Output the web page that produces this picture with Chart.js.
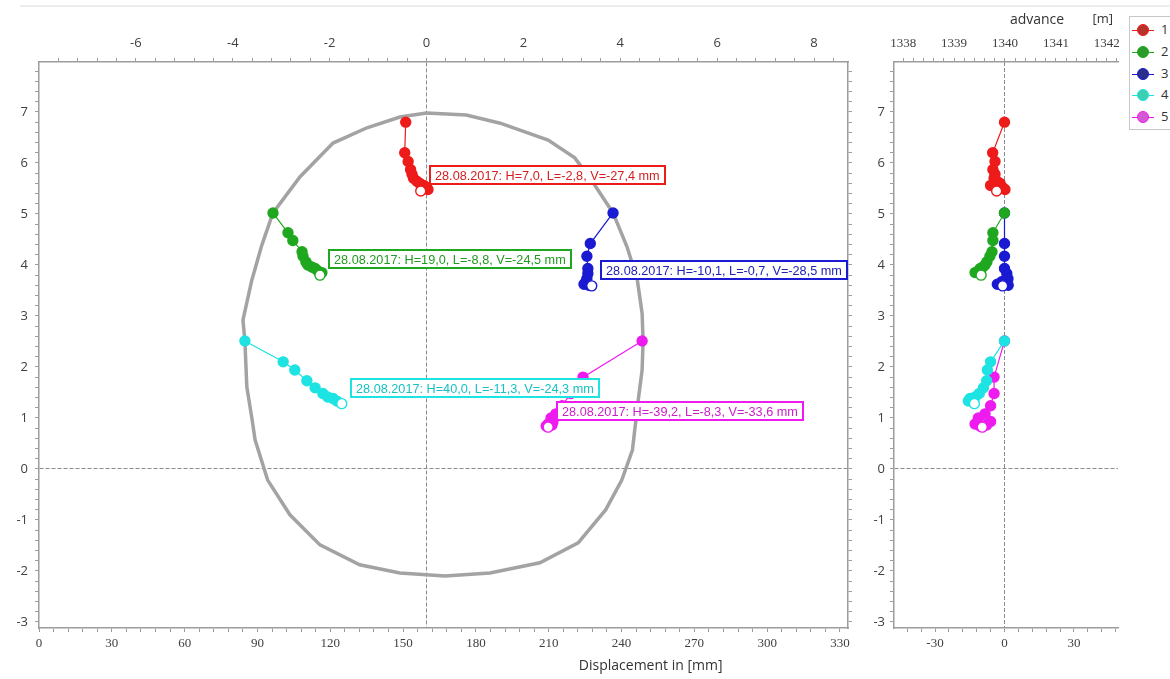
<!DOCTYPE html>
<html><head><meta charset="utf-8">
<script src="https://cdn.jsdelivr.net/npm/chart.js@4/dist/chart.umd.min.js"></script>
<style>
html,body{margin:0;padding:0;background:#fff;width:1170px;height:679px;overflow:hidden;font-family:"Open Sans","Liberation Sans",Arial,sans-serif}
#c1{position:absolute;left:0;top:0}
#c2{position:absolute;left:872px;top:0}
#topline{position:absolute;left:20px;top:5px;width:1150px;height:0;border-top:2px solid #ededed}
#legend{position:absolute;left:1129px;top:16px;width:60px;height:114px;border:1px solid #c8c8c8;box-sizing:border-box;background:#fff}
.li{position:absolute;left:0;width:60px;height:14px}
.ln{position:absolute;left:2px;top:7px;width:22px;height:1px}
.mk{position:absolute;left:7px;top:1px;width:10px;height:10px;border-radius:50%;border:1.5px solid}
.tx{position:absolute;left:31px;top:-2px;font-size:13px;color:#333;line-height:16px}
</style>
</head><body>
<div id="topline"></div>
<canvas id="c1" width="872" height="679"></canvas>
<canvas id="c2" width="258" height="679"></canvas>
<div id="legend"></div>
<script>
// ---------------- DATA ----------------
const seriesNames = ['1', '2', '3', '4', '5'];

// vertical position of each reading [m]
const s1_y = [6.80, 6.20, 6.03, 5.87, 5.78, 5.70, 5.64, 5.60, 5.56, 5.52, 5.48, 5.45];
const s2_y = [5.02, 4.63, 4.48, 4.26, 4.17, 4.06, 4.00, 3.96, 3.93, 3.88, 3.85, 3.80];
const s3_y = [5.02, 4.42, 4.17, 3.93, 3.83, 3.73, 3.67, 3.62, 3.60, 3.59];
const s4_y = [2.51, 2.10, 1.94, 1.73, 1.59, 1.48, 1.41, 1.38, 1.33, 1.28];
const s5_y = [2.51, 1.80, 1.48, 1.24, 1.08, 1.00, 0.93, 0.88, 0.86, 0.84, 0.82];

// cross-section horizontal position [m] (left panel, top axis)
const s1_xSection = [-0.43, -0.45, -0.38, -0.33, -0.30, -0.27, -0.20, -0.14, -0.06, 0.00, 0.03, -0.12];
const s2_xSection = [-3.17, -2.86, -2.76, -2.57, -2.55, -2.49, -2.45, -2.37, -2.30, -2.24, -2.16, -2.20];
const s3_xSection = [3.85, 3.38, 3.31, 3.33, 3.33, 3.31, 3.29, 3.25, 3.35, 3.41];
const s4_xSection = [-3.75, -2.96, -2.72, -2.47, -2.30, -2.14, -2.04, -1.93, -1.85, -1.75];
const s5_xSection = [4.45, 3.23, 2.98, 2.80, 2.67, 2.57, 2.61, 2.51, 2.59, 2.47, 2.51];

// longitudinal displacement [mm] (right panel, bottom axis)
const s1_xLong = [0, -5.1, -4.1, -5.0, -4.1, -4.5, -3.2, -1.9, -6.0, -0.8, 0.2, -3.4];
const s2_xLong = [0, -5.0, -5.0, -5.4, -6.3, -7.6, -8.4, -9.3, -10.5, -11.4, -12.7, -10.1];
const s3_xLong = [0, 0, 0, 0, 1.0, 1.5, -1.2, -3.1, 1.6, -0.8];
const s4_xLong = [0, -6.0, -7.4, -7.7, -9.1, -10.9, -12.7, -14.9, -15.6, -13.0];
const s5_xLong = [0, -4.5, -4.5, -6.0, -8.4, -11.3, -6.0, -12.7, -7.7, -10.6, -9.6];

// tunnel profile [m]
const profile_x = [0, 0.82, 1.52, 2.51, 3.06, 3.44, 3.85, 4.14, 4.35, 4.45, 4.47, 4.45, 4.37, 4.25, 4.03, 3.70, 3.13, 2.34, 1.31, 0.38, -0.55, -1.38, -2.20, -2.82, -3.28, -3.54, -3.60, -3.71, -3.75, -3.79, -3.61, -3.40, -3.17, -2.61, -1.93, -1.23, -0.55, 0];
const profile_y = [6.98, 6.94, 6.78, 6.45, 6.10, 5.61, 5.02, 4.35, 3.71, 3.05, 2.51, 1.94, 1.35, 0.37, -0.22, -0.80, -1.45, -1.84, -2.04, -2.10, -2.04, -1.88, -1.49, -0.90, -0.22, 0.57, 0.96, 1.61, 2.51, 2.92, 3.69, 4.39, 5.02, 5.73, 6.39, 6.69, 6.90, 6.98];

// final reading labels
const labelTexts = [
  '28.08.2017: H=7,0, L=-2,8, V=-27,4 mm',
  '28.08.2017: H=19,0, L=-8,8, V=-24,5 mm',
  '28.08.2017: H=-10,1, L=-0,7, V=-28,5 mm',
  '28.08.2017: H=40,0, L=-11,3, V=-24,3 mm',
  '28.08.2017: H=-39,2, L=-8,3, V=-33,6 mm'
];

// tick labels
const yTickLabels = [-3, -2, -1, 0, 1, 2, 3, 4, 5, 6, 7];
const topLeftTickLabels = [-6, -4, -2, 0, 2, 4, 6, 8];
const bottomLeftTickLabels = [0, 30, 60, 90, 120, 150, 180, 210, 240, 270, 300, 330];
const topRightTickLabels = [1338, 1339, 1340, 1341, 1342];
const bottomRightTickLabels = [-30, 0, 30];
const bottomTitle = 'Displacement in [mm]';
const advanceTitle = 'advance';
const advanceUnit = '[m]';

// ---------------- STYLE ----------------
const COLORS = ['#ee1b1b', '#1fa81f', '#1a1ad2', '#1ee3e3', '#ee1bee'];
const TEXTCOL = ['#d42020', '#1f9a1f', '#2020b8', '#16c2c2', '#cc1ccc'];
const LEGFILL = ['#b8322a', '#2a9a2a', '#2a2e8a', '#3ccfb0', '#d45ad4'];
const SANS = '"Open Sans", "Liberation Sans", Arial, sans-serif';
const SERIF = '"Liberation Serif", "DejaVu Serif", serif';
const AXIS = '#9c9c9c';
const TICKTXT = '#404040';

const ysAll = [s1_y, s2_y, s3_y, s4_y, s5_y];
const xSecAll = [s1_xSection, s2_xSection, s3_xSection, s4_xSection, s5_xSection];
const xLongAll = [s1_xLong, s2_xLong, s3_xLong, s4_xLong, s5_xLong];

function makeTicks(min, max, step, inclusive) {
  const out = [];
  const k0 = Math.ceil(min / step - 1e-9), k1 = Math.floor(max / step + 1e-9);
  for (let k = k0; k <= k1; k++) {
    const v = Math.round(k * step * 1e6) / 1e6;
    if (!inclusive && (Math.abs(v - min) < 1e-9 || Math.abs(v - max) < 1e-9)) continue;
    out.push({ value: v });
  }
  return out;
}
const inList = (v, list) => list.some(t => Math.abs(t - v) < 1e-6);
const labelFrom = list => (v) => inList(v, list) ? String(Math.round(v)) : '';
const zeroLine = (target) => (c) => (c.tick && Math.abs(c.tick.value - target) < 1e-9) ? '#8a8a8a' : 'rgba(0,0,0,0)';

function seriesDataset(i, xs, ys, xAxisID) {
  const n = xs.length;
  return {
    label: seriesNames[i],
    data: xs.map((x, k) => ({ x: x, y: ys[k] })),
    showLine: true,
    borderColor: COLORS[i],
    borderWidth: 1.2,
    pointRadius: 5,
    pointBorderWidth: 1.4,
    pointBorderColor: COLORS[i],
    pointBackgroundColor: (c) => c.dataIndex === n - 1 ? '#ffffff' : COLORS[i],
    xAxisID: xAxisID, yAxisID: 'y'
  };
}

function axisBase(extra) {
  return Object.assign({
    type: 'linear',
    border: { display: true, color: AXIS, width: 1.5, dash: [4, 2] },
  }, extra);
}

// text plugin (axis titles + final-reading labels)
const textPlugin = {
  id: 'texts',
  afterDatasetsDraw(chart, args, opts) {
    const ctx = chart.ctx;
    ctx.save();
    (opts.boxes || []).forEach((b) => {
      const xs = chart.scales[b.xAxis], ys = chart.scales.y;
      const px = xs.getPixelForValue(b.x), py = ys.getPixelForValue(b.y);
      ctx.font = '12.7px "Liberation Sans", Arial, sans-serif';
      ctx.textBaseline = 'middle';
      ctx.textAlign = 'left';
      const w = Math.round(ctx.measureText(b.text).width) + 12, h = 20;
      const bx = Math.round(px + 8), by = Math.round(py - 26);
      ctx.fillStyle = '#ffffff';
      ctx.fillRect(bx, by, w, h);
      ctx.lineWidth = 2;
      ctx.strokeStyle = b.border;
      ctx.strokeRect(bx + 1, by + 1, w - 2, h - 2);
      ctx.fillStyle = b.color;
      ctx.fillText(b.text, bx + 6, by + h / 2 + 1);
    });
    (opts.titles || []).forEach((t) => {
      const xs = chart.scales[t.xAxis];
      ctx.font = t.font;
      ctx.fillStyle = '#333333';
      ctx.textAlign = 'center';
      ctx.textBaseline = 'middle';
      ctx.fillText(t.text, xs.getPixelForValue(t.value), t.y);
    });
    ctx.restore();
  }
};

const tickFontSans = { family: SANS, size: 13 };
const tickFontSerif = { family: SERIF, size: 13 };

// ---------------- LEFT CHART (cross-section) ----------------
const leftDatasets = xSecAll.map((xs, i) => seriesDataset(i, xs, ysAll[i], 'xTop'));
leftDatasets.push({
  label: 'profile',
  data: profile_x.map((x, k) => ({ x: x, y: profile_y[k] })),
  showLine: true, borderColor: '#a3a3a3', borderWidth: 3.5, pointRadius: 0,
  xAxisID: 'xTop', yAxisID: 'y'
});

new Chart(document.getElementById('c1'), {
  type: 'scatter',
  data: { datasets: leftDatasets },
  plugins: [textPlugin],
  options: {
    responsive: false, animation: false, events: [],
    layout: { padding: 0 },
    plugins: {
      legend: { display: false }, tooltip: { enabled: false },
      texts: {
        boxes: xSecAll.map((xs, i) => ({
          xAxis: 'xTop', x: xs[xs.length - 1], y: ysAll[i][ysAll[i].length - 1],
          text: labelTexts[i], border: COLORS[i], color: TEXTCOL[i]
        })),
        titles: [{ xAxis: 'x', value: 252, y: 666, text: bottomTitle, font: '14px ' + SANS }]
      }
    },
    scales: {
      xTop: axisBase({
        position: 'top', min: -8, max: 8.7,
        afterBuildTicks: s => { s.ticks = makeTicks(-8, 8.7, 0.4, false); },
        afterFit: s => { s.height = 62; },
        ticks: { autoSkip: false, maxRotation: 0, padding: 7, color: TICKTXT, font: tickFontSans, callback: labelFrom(topLeftTickLabels) },
        grid: { drawOnChartArea: true, color: zeroLine(0), lineWidth: 1, tickColor: AXIS, tickLength: 4 }
      }),
      x: axisBase({
        position: 'bottom', min: 0, max: 333.3,
        afterBuildTicks: s => { s.ticks = makeTicks(0, 333.3, 6, true); },
        afterFit: s => { s.height = 51; },
        ticks: { autoSkip: false, maxRotation: 0, padding: 4, color: TICKTXT, font: tickFontSerif, callback: labelFrom(bottomLeftTickLabels) },
        grid: { drawOnChartArea: false, tickColor: AXIS, tickLength: 4 }
      }),
      y: axisBase({
        position: 'left', min: -3.12, max: 7.98,
        afterBuildTicks: s => { s.ticks = makeTicks(-3.12, 7.98, 0.2, false); },
        afterFit: s => { s.width = 39; },
        ticks: { autoSkip: false, padding: 7, color: TICKTXT, font: tickFontSans, callback: labelFrom(yTickLabels) },
        grid: { drawOnChartArea: true, color: zeroLine(0), lineWidth: 1, tickColor: AXIS, tickLength: 4 }
      }),
      yR: axisBase({
        position: 'right', min: -3.12, max: 7.98,
        afterBuildTicks: s => { s.ticks = makeTicks(-3.12, 7.98, 0.2, false); },
        afterFit: s => { s.width = 24; },
        ticks: { autoSkip: false, callback: () => '' },
        grid: { drawOnChartArea: false, tickColor: AXIS, tickLength: 4 }
      })
    }
  }
});

// ---------------- RIGHT CHART (longitudinal) ----------------
const rightDatasets = xLongAll.map((xs, i) => seriesDataset(i, xs, ysAll[i], 'xb'));

new Chart(document.getElementById('c2'), {
  type: 'scatter',
  data: { datasets: rightDatasets },
  plugins: [textPlugin],
  options: {
    responsive: false, animation: false, events: [],
    layout: { padding: { left: 0, right: 12, top: 0, bottom: 0 } },
    plugins: {
      legend: { display: false }, tooltip: { enabled: false },
      texts: {
        boxes: [],
        titles: [
          { xAxis: 'xt', value: 1340.63, y: 20, text: advanceTitle, font: '14px ' + SANS },
          { xAxis: 'xt', value: 1341.92, y: 19, text: advanceUnit, font: '13px ' + SANS }
        ]
      }
    },
    scales: {
      xt: axisBase({
        position: 'top', min: 1337.82, max: 1342.22,
        afterBuildTicks: s => { s.ticks = makeTicks(1337.82, 1342.22, 0.2, false); },
        afterFit: s => { s.height = 62; },
        ticks: { autoSkip: false, maxRotation: 0, padding: 7, color: TICKTXT, font: tickFontSerif, callback: labelFrom(topRightTickLabels) },
        grid: { drawOnChartArea: false, tickColor: AXIS, tickLength: 4 }
      }),
      xb: axisBase({
        position: 'bottom', min: -47.7, max: 49.0,
        afterBuildTicks: s => { s.ticks = makeTicks(-47.7, 49.0, 6, false); },
        afterFit: s => { s.height = 51; },
        ticks: { autoSkip: false, maxRotation: 0, padding: 4, color: TICKTXT, font: tickFontSerif, callback: labelFrom(bottomRightTickLabels) },
        grid: { drawOnChartArea: true, color: zeroLine(0), lineWidth: 1, tickColor: AXIS, tickLength: 4 }
      }),
      y: axisBase({
        position: 'left', min: -3.12, max: 7.98,
        afterBuildTicks: s => { s.ticks = makeTicks(-3.12, 7.98, 0.2, false); },
        afterFit: s => { s.width = 22; },
        ticks: { autoSkip: false, padding: 5, color: TICKTXT, font: tickFontSans, callback: labelFrom(yTickLabels) },
        grid: { drawOnChartArea: true, color: zeroLine(0), lineWidth: 1, tickColor: AXIS, tickLength: 4 }
      })
    }
  }
});

// ---------------- LEGEND ----------------
const legend = document.getElementById('legend');
const legendTops = [6, 28, 50, 71, 93];
seriesNames.forEach((name, i) => {
  const it = document.createElement('div');
  it.className = 'li';
  it.style.top = legendTops[i] + 'px';
  it.innerHTML = '<div class="ln" style="background:' + COLORS[i] + '"></div>' +
    '<div class="mk" style="background:' + LEGFILL[i] + ';border-color:' + COLORS[i] + '"></div>' +
    '<div class="tx">' + name + '</div>';
  legend.appendChild(it);
});
</script>
</body></html>
